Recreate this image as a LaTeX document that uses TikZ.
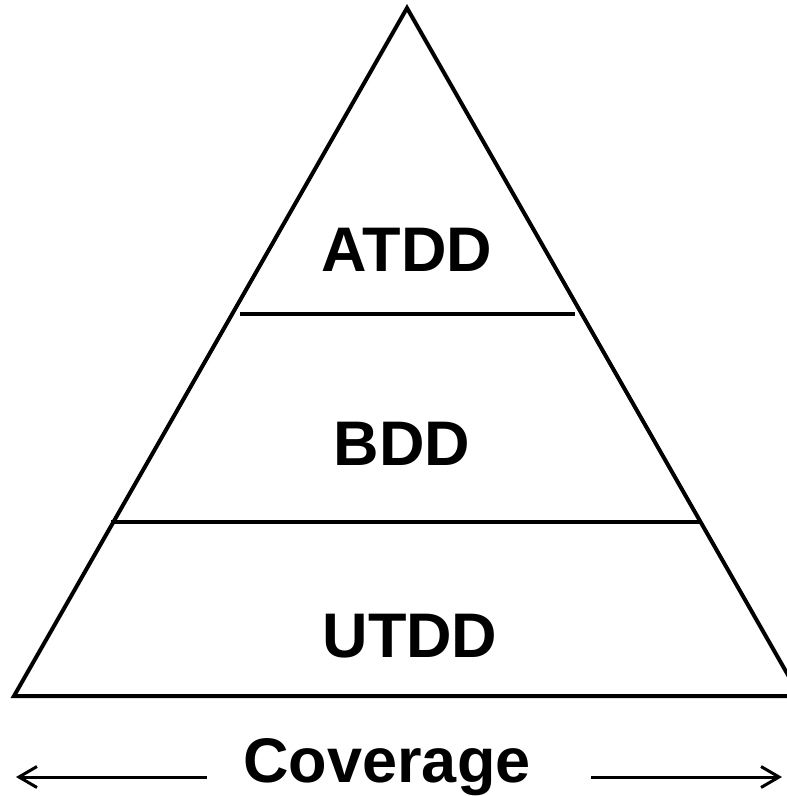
\documentclass[tikz,border=0pt]{standalone}
\usepackage{fontspec}
\setmainfont{Liberation Sans}
\usetikzlibrary{arrows.meta}
\begin{document}
\begin{tikzpicture}[x=1pt,y=-1pt,
  edge/.style={line width=4pt,line join=miter},
  layerlabel/.style={anchor=base,inner sep=0pt,font=\fontsize{63}{72}\selectfont\bfseries},
  axis/.style={line width=3pt,-{Straight Barb[length=18pt,width=21pt,line width=3pt]}}]
  \useasboundingbox (0,0) rectangle (787,796);
  \clip (0,0) rectangle (787,796);
  % pyramid outline
  \coordinate (apex) at (407,8);
  \coordinate (bl) at (14,696);
  \coordinate (br) at (800,696);
  \draw[edge] (apex) -- (bl) -- (br) -- cycle;
  % layer separators
  \coordinate (s1l) at (240,313.5);
  \coordinate (s1r) at (575,313.5);
  \coordinate (s2l) at (111,522);
  \coordinate (s2r) at (702,522);
  \draw[edge] (s1l) -- (s1r);
  \draw[edge] (s2l) -- (s2r);
  % layer names
  \node[layerlabel] (atdd) at (407,271) {ATDD};
  \node[layerlabel] (bdd) at (402,465) {BDD};
  \node[layerlabel] (utdd) at (410,657) {UTDD};
  % coverage axis
  \node[layerlabel] (cov) at (387,782) {Coverage};
  \coordinate (lend) at (16,777);
  \coordinate (rend) at (782,777);
  \coordinate (lstart) at (207,777);
  \coordinate (rstart) at (591,777);
  \draw[axis] (lstart) -- (lend);
  \draw[axis] (rstart) -- (rend);
\end{tikzpicture}
\end{document}
